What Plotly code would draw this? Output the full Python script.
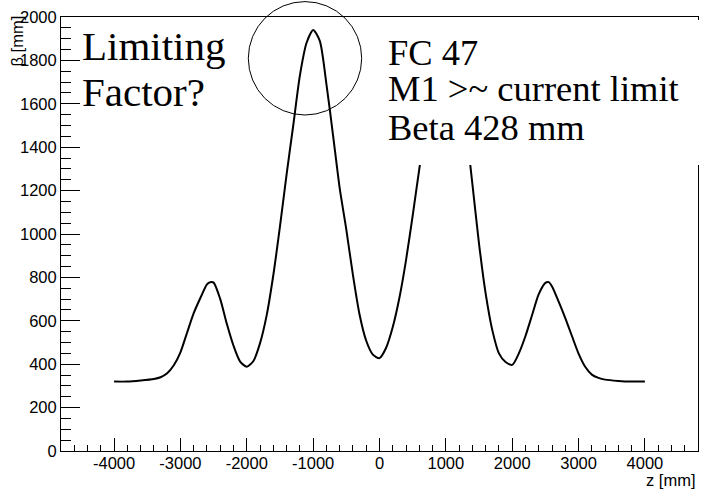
import plotly.graph_objects as go

# beta function along z
z = [-4000, -3800, -3600, -3400, -3300, -3200, -3100, -3000, -2900, -2800,
     -2700, -2600, -2550, -2500, -2400, -2300, -2200, -2100, -2000, -1900,
     -1800, -1700, -1600, -1500, -1400, -1300, -1200, -1100, -1000, -900,
     -800, -700, -600, -500, -400, -300, -200, -100, 0, 100,
     200, 300, 400, 500, 600, 700, 800, 900, 1000, 1100,
     1200, 1300, 1400, 1500, 1600, 1700, 1800, 1900, 2000, 2100,
     2200, 2300, 2400, 2500, 2550, 2600, 2700, 2800, 2900, 3000,
     3100, 3200, 3300, 3400, 3600, 3800, 4000]
beta = [320, 320, 325, 332, 340, 358, 395, 455, 545, 635,
        705, 768, 778, 776, 700, 585, 485, 412, 388, 415,
        497, 626, 811, 1035, 1275, 1500, 1730, 1880, 1940, 1890,
        1691, 1455, 1211, 1020, 810, 628, 508, 444, 428, 476,
        571, 706, 880, 1085, 1300, 1510, 1710, 1880, 1940, 1880,
        1720, 1500, 1230, 955, 725, 557, 450, 410, 397, 450,
        530, 627, 723, 775, 778, 758, 688, 612, 530, 449,
        388, 352, 337, 329, 323, 320, 320]

xticks = [-4000, -3000, -2000, -1000, 0, 1000, 2000, 3000, 4000]
xlabels = ["-4000", "-3000", "-2000", "-1000", "0", "1000", "2000", "3000", "4000"]

W, H = 704, 490
L, R, T, B = 61, 698, 17, 451


def px(x):
    return (x - L) / (R - L)


def py(y):
    return (B - y) / (B - T)


fig = go.Figure()
fig.add_trace(go.Scatter(x=z, y=beta, mode="lines",
                         line={"color": "black", "width": 2, "shape": "spline", "smoothing": 0.7}))

axis_common = dict(showgrid=False, zeroline=False, showline=True, linecolor="black",
                   linewidth=1, mirror=True, ticks="inside", tickcolor="black",
                   tickwidth=1, tickfont={"family": "Liberation Sans", "size": 16.5, "color": "black"})

fig.update_xaxes(range=[-4800, 4800], tickmode="array", tickvals=xticks, ticktext=xlabels,
                 ticklen=13, ticklabelstandoff=-3,
                 minor={"tickmode": "linear", "tick0": 0, "dtick": 200, "ticks": "inside",
                        "ticklen": 6.5, "tickcolor": "black", "tickwidth": 1},
                 **axis_common)
fig.update_yaxes(range=[0, 2000], dtick=200, ticklen=19,
                 minor={"tick0": 0, "dtick": 50, "ticks": "inside",
                        "ticklen": 9.5, "tickcolor": "black", "tickwidth": 1},
                 **axis_common)

# white box hiding part of the curve, and the circle
fig.add_shape(type="rect", xref="paper", yref="paper",
              x0=px(370), x1=px(710), y0=py(165), y1=py(20),
              fillcolor="white", line={"width": 0}, layer="above")
fig.add_shape(type="circle", xref="paper", yref="paper",
              x0=px(248.3), x1=px(361.7), y0=py(115), y1=py(1.6),
              line={"color": "black", "width": 1}, layer="above")

serif = "Liberation Serif"
notes = [("Limiting", 80, 46, 41), ("Factor?", 80, 92, 41),
         ("FC 47", 386, 53, 36.5), ("M1 &gt;~ current limit", 386, 89, 36.5),
         ("Beta 428 mm", 386, 128, 36.5)]
for txt, x, y, s in notes:
    fig.add_annotation(text=txt, xref="paper", yref="paper", x=px(x), y=py(y),
                       xanchor="left", yanchor="middle", showarrow=False,
                       font={"family": serif, "size": s, "color": "black"})

fig.add_annotation(text="z [mm]", xref="paper", yref="paper", x=px(698), y=py(480),
                   xanchor="right", yanchor="middle", showarrow=False,
                   font={"family": "Liberation Sans", "size": 16.5, "color": "black"})
fig.add_annotation(text="β [mm]", xref="paper", yref="paper", x=px(17), y=py(14),
                   xanchor="center", yanchor="top", textangle=-90, showarrow=False,
                   font={"family": "Liberation Sans", "size": 16.5, "color": "black"})

fig.update_layout(width=W, height=H, margin={"l": L, "r": W - R, "t": T, "b": H - B},
                  plot_bgcolor="white", paper_bgcolor="white", showlegend=False)

fig.write_html("out.html", config={"displayModeBar": False},
               post_script="document.body.style.margin='0';")
